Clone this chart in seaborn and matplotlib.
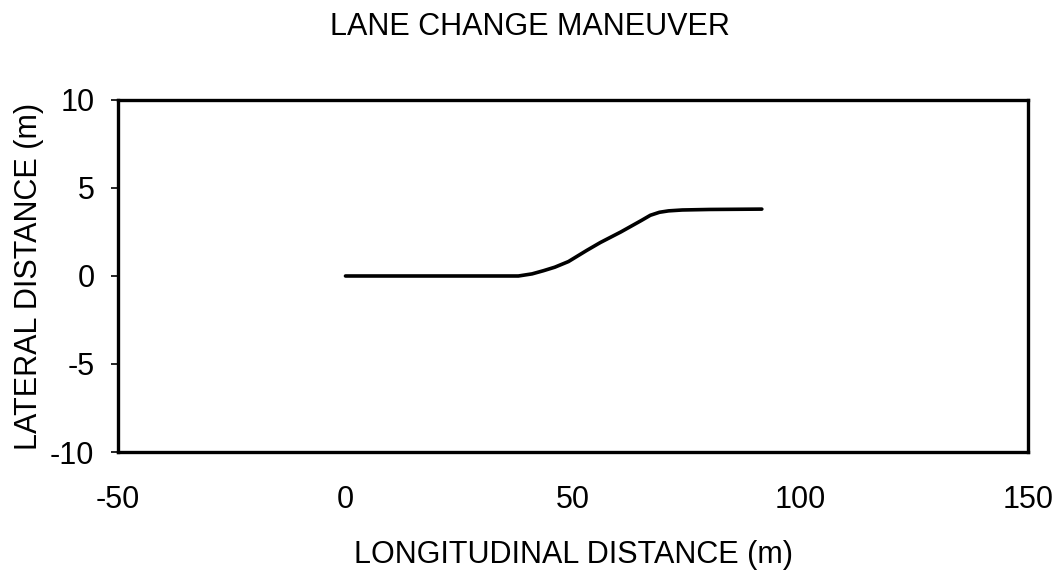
import matplotlib
matplotlib.use("Agg")
import matplotlib.pyplot as plt
import seaborn as sns
import pandas as pd

# Data
longitudinal = [0, 10, 20, 30, 38, 41, 43.5, 46, 49, 53, 56, 60.5, 65, 67, 69, 71, 74, 80, 91.5]
lateral = [0, 0, 0, 0, 0, 0.12, 0.3, 0.5, 0.82, 1.45, 1.9, 2.5, 3.15, 3.45, 3.62, 3.7, 3.75, 3.78, 3.8]
x_ticks = [-50, 0, 50, 100, 150]
y_ticks = [-10, -5, 0, 5, 10]

sns.set_style("white")
plt.rcParams['font.family'] = ['Liberation Sans', 'DejaVu Sans']
plt.rcParams['axes.unicode_minus'] = False
plt.rcParams['text.color'] = 'black'
plt.rcParams['axes.labelcolor'] = 'black'
plt.rcParams['xtick.color'] = 'black'
plt.rcParams['ytick.color'] = 'black'

fig = plt.figure(figsize=(10.62, 5.71), dpi=100)
ax = fig.add_axes([0.1111, 0.2084, 0.8569, 0.6165])

df = pd.DataFrame({"x": longitudinal, "y": lateral})
sns.lineplot(data=df, x="x", y="y", ax=ax, color="black", linewidth=2.6, sort=False)

ax.set_xlim(-50, 150)
ax.set_ylim(-10, 10)
ax.set_xticks(x_ticks)
ax.set_yticks(y_ticks)
ax.tick_params(axis="y", direction="out", length=5, width=1.2, pad=12, labelsize=22, left=True)
ax.tick_params(axis="x", length=0, pad=24, labelsize=22)
for s in ax.spines.values():
    s.set_visible(True)
    s.set_color("black")
    s.set_linewidth(2.4)

ax.set_xlabel("LONGITUDINAL DISTANCE (m)", fontsize=22, labelpad=18)
ax.set_ylabel("LATERAL DISTANCE (m)", fontsize=22, labelpad=4)
fig.text(0.499, 0.952, "LANE CHANGE MANEUVER", ha="center", va="center", fontsize=22)

fig.savefig("out.png", dpi=100, facecolor="white")
